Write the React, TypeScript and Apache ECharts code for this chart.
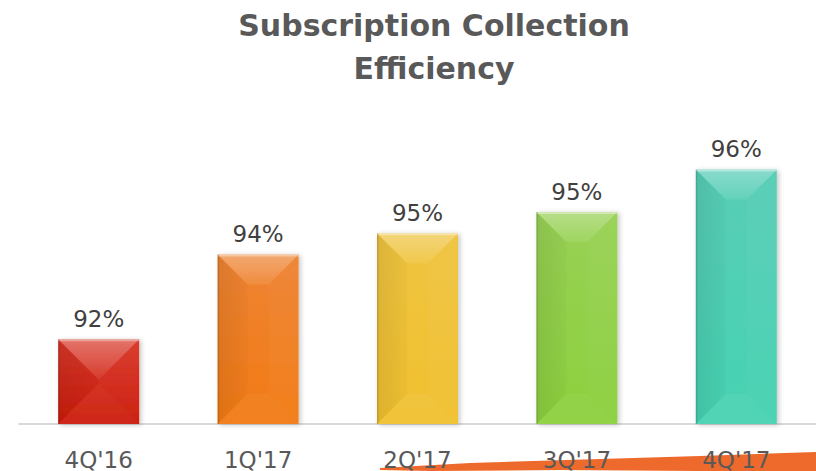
import React, { useEffect, useRef } from "react";
import * as echarts from "echarts";

const categories = ["4Q'16", "1Q'17", "2Q'17", "3Q'17", "4Q'17"];
const values = [92.0, 94.0, 94.5, 95.0, 96.0];
const barTopColors = ["#D8382A", "#EE8434", "#EFC440", "#98D155", "#58CDB6"];
const barBottomColors = ["#CC1C0A", "#F27A14", "#F0C02E", "#8CD03E", "#46D2B2"];
const titleLines = ["Subscription Collection", "Efficiency"];
const AXIS_MIN = 90;
const AXIS_MAX = 100;

export default function App() {
  const ref = useRef<HTMLDivElement>(null);
  useEffect(() => {
    if (!ref.current) return;
    const chart = echarts.init(ref.current, undefined, { renderer: "svg" });
    const BW = 81;
    chart.setOption({
      animation: false,
      backgroundColor: "#ffffff",
      grid: { left: 19, top: 0, width: 800, height: 424, containLabel: false },
      xAxis: {
        type: "category",
        data: categories,
        axisLine: { show: true, lineStyle: { color: "#d9d9d9", width: 2 } },
        axisTick: { show: false },
        axisLabel: {
          color: "#595959",
          fontSize: 23,
          fontFamily: "DejaVu Sans",
          margin: 24,
        },
      },
      yAxis: {
        type: "value",
        min: AXIS_MIN,
        max: AXIS_MAX,
        show: false,
        splitLine: { show: false },
      },
      graphic: [
        {
          type: "polygon",
          z: -1,
          shape: {
            points: [
              [380, 468], [470, 463], [600, 459], [700, 456], [816, 452],
              [816, 471], [700, 471], [560, 470], [430, 471], [380, 470],
            ],
          },
          style: { fill: "#EE6A2C" },
        },
        {
          type: "text",
          x: 434,
          y: 4,
          style: {
            text: titleLines.join("\n"),
            fill: "#595959",
            font: "bold 30px 'DejaVu Sans'",
            textAlign: "center",
            lineHeight: 43,
          },
        },
      ],
      series: [
        {
          type: "bar",
          barWidth: BW,
          data: values.map((v, i) => ({
            value: v,
            itemStyle: {
              color: new echarts.graphic.LinearGradient(0, 0, 0, 1, [
                { offset: 0, color: barTopColors[i] },
                { offset: 1, color: barBottomColors[i] },
              ]),
            },
          })),
          itemStyle: {
            shadowColor: "rgba(0,0,0,0.22)",
            shadowBlur: 5,
            shadowOffsetX: 2,
            shadowOffsetY: 1,
          },
          label: {
            show: true,
            position: "top",
            distance: 9,
            color: "#404040",
            fontSize: 23,
            fontFamily: "DejaVu Sans",
            formatter: (p: any) => `${Math.round(p.value)}%`,
          },
          z: 2,
        },
        {
          type: "custom",
          z: 3,
          silent: true,
          data: values.map((v, i) => [i, v]),
          encode: { x: 0, y: 1 },
          renderItem: (params: any, api: any) => {
            const idx = api.value(0);
            const v = api.value(1);
            const top = api.coord([idx, v]);
            const base = api.coord([idx, AXIS_MIN]);
            const x0 = top[0] - BW / 2;
            const x1 = top[0] + BW / 2;
            const y0 = top[1];
            const y1 = base[1];
            const h = y1 - y0;
            const d = h < 100 ? Math.min(BW / 2, h / 2) : 30;
            return {
              type: "group",
              children: [
                {
                  type: "polygon",
                  shape: { points: [[x0, y0], [x1, y0], [x1 - d, y0 + d], [x0 + d, y0 + d]] },
                  style: {
                    fill: new echarts.graphic.LinearGradient(0, 0, 0, 1, [
                      { offset: 0, color: "rgba(255,255,255,0.30)" },
                      { offset: 1, color: "rgba(255,255,255,0.08)" },
                    ]),
                  },
                },
                {
                  type: "polygon",
                  shape: { points: [[x0, y0], [x0 + d, y0 + d], [x0 + d, y1 - d], [x0, y1]] },
                  style: {
                    fill: new echarts.graphic.LinearGradient(0, 0, 1, 0, [
                      { offset: 0, color: "rgba(0,0,0,0.08)" },
                      { offset: 1, color: "rgba(0,0,0,0.02)" },
                    ]),
                  },
                },
                {
                  type: "polygon",
                  shape: { points: [[x1, y0], [x1, y1], [x1 - d, y1 - d], [x1 - d, y0 + d]] },
                  style: { fill: "rgba(255,255,255,0.03)" },
                },
                {
                  type: "polygon",
                  shape: { points: [[x0, y1], [x0 + d, y1 - d], [x1 - d, y1 - d], [x1, y1]] },
                  style: { fill: "rgba(255,255,255,0.05)" },
                },
                {
                  type: "rect",
                  shape: { x: x0, y: y0, width: BW, height: 2 },
                  style: { fill: "rgba(255,255,255,0.35)" },
                },
                {
                  type: "rect",
                  shape: { x: x0, y: y0, width: 1.5, height: h },
                  style: { fill: "rgba(0,0,0,0.12)" },
                },
              ],
            };
          },
        },
      ],
    });
    return () => chart.dispose();
  }, []);
  return <div ref={ref} style={{ width: 816, height: 471, position: "absolute", left: 0, top: 0 }} />;
}
